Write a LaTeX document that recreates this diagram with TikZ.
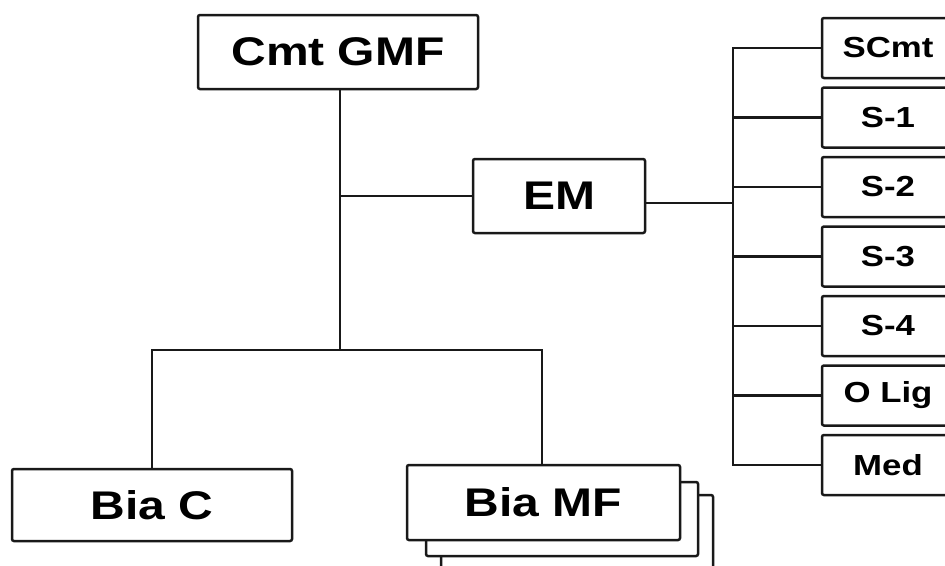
\documentclass[tikz,border=0pt]{standalone}
\usepackage{fontspec}
\newfontfamily\lab{Liberation Sans}[FakeStretch=1.2]
\begin{document}
\begin{tikzpicture}[x=1pt,y=-1pt,
  box/.style={draw=black!90, line width=2.5pt, rounded corners=2pt, fill=white, inner sep=0pt},
  bigbox/.style={box, font=\lab\bfseries\fontsize{40}{44}\selectfont},
  smallbox/.style={box, minimum width=132pt, minimum height=60pt, font=\lab\bfseries\fontsize{29}{32}\selectfont},
  conn/.style={draw=black!90, line width=2.6pt}]
\useasboundingbox (0,0) rectangle (945,565);
\clip (0,0) rectangle (945,565);
\fill[white] (0,0) rectangle (945,565);

% top and middle
\node[bigbox, minimum width=280pt, minimum height=74pt] (gmf) at (338,52) {Cmt GMF};
\node[bigbox, minimum width=172pt, minimum height=74pt] (em) at (559,196) {EM};
\node[bigbox, minimum width=280pt, minimum height=72pt] (biac) at (152,505) {Bia C};

% stacked Bia MF boxes
\node[box, minimum width=272pt, minimum height=74pt] (mf3) at (577,532) {};
\node[box, minimum width=272pt, minimum height=74pt] (mf2) at (562,519) {};
\node[bigbox, minimum width=273pt, minimum height=75pt] (biamf) at (543.5,502.5) {Bia MF};

% right column
\node[smallbox] (scmt) at (888,48) {SCmt};
\node[smallbox] (s1) at (888,117.5) {S-1};
\node[smallbox] (s2) at (888,187) {S-2};
\node[smallbox] (s3) at (888,256.5) {S-3};
\node[smallbox] (s4) at (888,326) {S-4};
\node[smallbox] (olig) at (888,395.5) {O Lig};
\node[smallbox] (med) at (888,465) {Med};

% connectors
\coordinate (j) at (340,350);
\coordinate (bb) at (733,465);
\draw[conn] ([xshift=2pt]gmf.south) -- ([xshift=2pt]gmf.south |- j);
\draw[conn] (em.west) -- (em.west -| j);
\draw[conn] (biac.north) |- (j) -| ([xshift=-1.5pt]biamf.north);
\draw[conn] ([yshift=-7pt]em.east) -- ([yshift=-7pt]em.east -| bb);
\draw[conn] (scmt.west) -| (bb) -- (med.west);
\foreach \n in {s1,s2,s3,s4,olig}
  \draw[conn] (\n.west) -- (\n.west -| bb);
\end{tikzpicture}
\end{document}
